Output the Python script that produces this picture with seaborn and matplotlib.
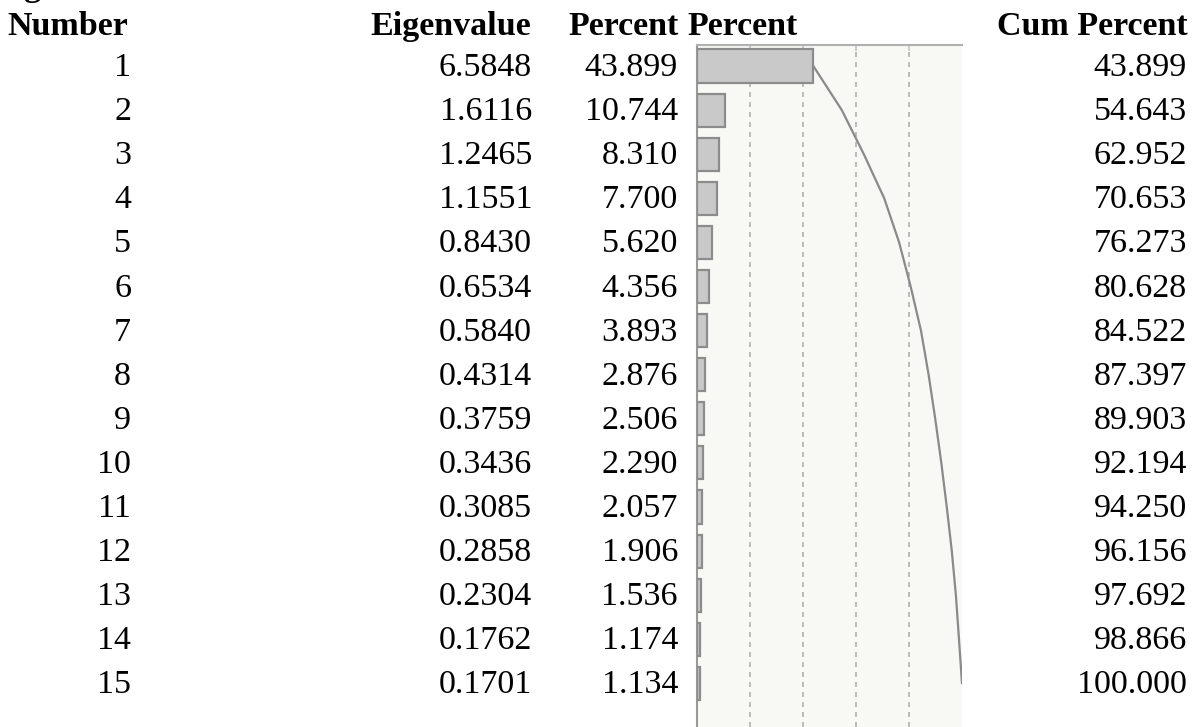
import matplotlib
matplotlib.use("Agg")
import matplotlib.pyplot as plt
import matplotlib.transforms as mtransforms
import seaborn as sns
import pandas as pd

numbers = list(range(1, 16))
eigenvalues = [6.5848, 1.6116, 1.2465, 1.1551, 0.8430, 0.6534, 0.5840, 0.4314,
               0.3759, 0.3436, 0.3085, 0.2858, 0.2304, 0.1762, 0.1701]
percent = [43.899, 10.744, 8.310, 7.700, 5.620, 4.356, 3.893, 2.876,
           2.506, 2.290, 2.057, 1.906, 1.536, 1.174, 1.134]
cum_percent = [43.899, 54.643, 62.952, 70.653, 76.273, 80.628, 84.522, 87.397,
               89.903, 92.194, 94.250, 96.156, 97.692, 98.866, 100.000]
headers = ["Number", "Eigenvalue", "Percent", "Percent", "Cum Percent"]
title = "Eigenvalues"

sns.set_theme(style="white")
plt.rcParams['font.family'] = ['Liberation Serif', 'DejaVu Serif']

W, H = 1204, 727
fig = plt.figure(figsize=(W / 100, H / 100), dpi=100)
fig.patch.set_facecolor("white")

left_px, right_px, top_px = 697, 962, 45
ax = fig.add_axes([left_px / W, 0, (right_px - left_px) / W, 1 - top_px / H])
ax.set_facecolor("#f8f8f5")

df = pd.DataFrame({"Number": [str(n) for n in numbers], "Percent": percent,
                   "pos": range(len(numbers)), "Cum": cum_percent})
sns.barplot(data=df, x="Percent", y="Number", orient="h", width=0.75,
            color="#c9c9c9", edgecolor="#8c8c8c", linewidth=1.6,
            saturation=1, ax=ax, zorder=3)
sns.lineplot(data=df, x="Cum", y="pos", sort=False, orient="y",
             color="#8a8a8a", linewidth=1.6, ax=ax, zorder=4)

ax.set_xlim(0, 100)
row_px = 44.1
ax.set_ylim(14 + (727 - 683.4) / row_px, -(66 - top_px) / row_px)
ax.set_xticks([20, 40, 60, 80])
ax.set_xticklabels([])
ax.set_yticks([])
ax.set_xlabel("")
ax.set_ylabel("")
ax.xaxis.grid(True, linestyle=(0, (3, 3)), color="#b0b0b0", linewidth=1.2, zorder=0)
ax.xaxis.set_ticks_position("top")
ax.tick_params(axis="x", direction="in", length=4, color="#c8c8c8", top=True, bottom=False)
for s in ["right", "bottom"]:
    ax.spines[s].set_visible(False)
ax.spines["top"].set_color("#b0b0b0")
ax.spines["top"].set_linewidth(1.5)
ax.spines["left"].set_color("#999999")
ax.spines["left"].set_linewidth(1.5)

tr = mtransforms.blended_transform_factory(fig.transFigure, ax.transData)
fs = 24.5
base_off = (76 - 66) / row_px
head_y = (35 - 66) / row_px

# cut-off title at the very top
ax.text(-8 / W, (-4 - 66) / row_px, title, transform=tr, fontsize=fs,
        fontweight="bold", va="baseline", ha="left", color="black", clip_on=False)

# headers
fig_txt = dict(transform=tr, fontsize=fs, fontweight="bold", va="baseline",
               color="black", clip_on=False)
ax.text(128 / W, head_y, headers[0], ha="right", **fig_txt)
ax.text(531 / W, head_y, headers[1], ha="right", **fig_txt)
ax.text(679 / W, head_y, headers[2], ha="right", **fig_txt)
ax.text(687 / W, head_y, headers[3], ha="left", **fig_txt)
ax.text(1188 / W, head_y, headers[4], ha="right", **fig_txt)

cell = dict(transform=tr, fontsize=fs, va="baseline", ha="right",
            color="black", clip_on=False)
for i in range(len(numbers)):
    y = i + base_off
    ax.text(131 / W, y, f"{numbers[i]}", **cell)
    ax.text(532 / W, y, f"{eigenvalues[i]:.4f}", **cell)
    ax.text(678 / W, y, f"{percent[i]:.3f}", **cell)
    ax.text(1187 / W, y, f"{cum_percent[i]:.3f}", **cell)

fig.savefig("out.png", dpi=100)
